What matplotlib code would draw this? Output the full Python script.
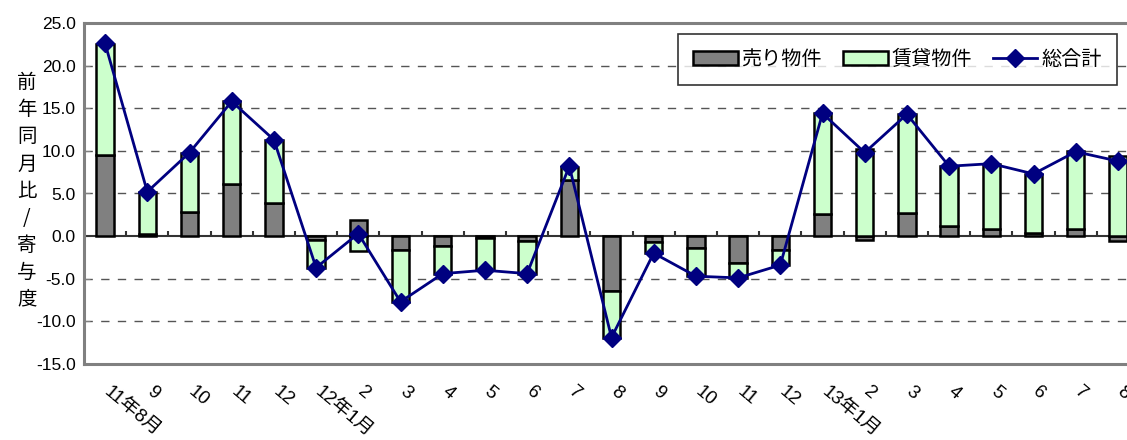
import numpy as np
import matplotlib
matplotlib.use("Agg")
import matplotlib.pyplot as plt

categories = ["11年8月", "9", "10", "11", "12", "12年1月", "2", "3", "4", "5", "6", "7",
              "8", "9", "10", "11", "12", "13年1月", "2", "3", "4", "5", "6", "7", "8"]
sale = [9.5, 0.2, 2.8, 6.1, 3.9, -0.5, 1.9, -1.6, -1.2, -0.2, -0.6, 6.6,
        -6.4, -0.7, -1.4, -3.2, -1.6, 2.6, -0.4, 2.7, 1.2, 0.8, 0.4, 0.8, -0.6]
rent = [13.0, 5.0, 7.0, 9.7, 7.4, -3.2, -1.7, -6.1, -3.3, -3.8, -3.8, 1.5,
        -5.5, -1.3, -3.3, -1.7, -1.8, 11.8, 10.2, 11.6, 7.0, 7.7, 6.9, 9.2, 9.4]
total = [22.6, 5.2, 9.8, 15.8, 11.3, -3.7, 0.3, -7.7, -4.4, -4.0, -4.4, 8.2,
         -11.9, -2.0, -4.7, -4.9, -3.4, 14.4, 9.8, 14.3, 8.2, 8.5, 7.3, 9.9, 8.8]
yticks = [-15, -10, -5, 0, 5, 10, 15, 20, 25]
labels = ["売り物件", "賃貸物件", "総合計"]
ylabel = "前年同月比/寄与度"

num_font = ["Liberation Sans", "Noto Sans CJK JP"]
cjk_font = ["Noto Sans CJK JP", "DejaVu Sans"]

fig = plt.figure(figsize=(11.27, 4.4), dpi=100)
ax = fig.add_axes([84 / 1127, 1 - 364 / 440, 1055 / 1127, 341 / 440])

x = np.arange(len(categories))
sale_a = np.array(sale)
rent_a = np.array(rent)
rent_bottom = np.where(np.sign(rent_a) == np.sign(sale_a), sale_a, 0.0)

w = 0.41
b1 = ax.bar(x, sale_a, w, color="#808080", edgecolor="black", linewidth=1.8, label=labels[0], zorder=3)
b2 = ax.bar(x, rent_a, w, bottom=rent_bottom, color="#CCFFCC", edgecolor="black", linewidth=1.8,
            label=labels[1], zorder=3)
ln, = ax.plot(x, total, color="#000080", linewidth=2, marker="D", markersize=9.5,
              markerfacecolor="#000080", markeredgecolor="#000080", label=labels[2], zorder=4)

ax.set_xlim(-0.5, len(categories) - 0.5)
ax.set_ylim(-15, 25)
ax.set_yticks(yticks)
ax.set_yticklabels([f"{v:.1f}" for v in yticks], fontsize=12.5, family=num_font)
for v in yticks:
    if v == 0:
        ax.axhline(0, color="#333333", linewidth=1.5, zorder=2)
    elif v != 25 and v != -15:
        ax.axhline(v, color="#555555", linewidth=1, linestyle=(0, (6, 6)), zorder=1)

# category boundary ticks on zero line
ax.vlines(x[:-1] + 0.5, 0, 0.65, color="#333333", linewidth=1.5, zorder=2)

ax.set_xticks(x)
ax.set_xticklabels([])
ax.tick_params(axis="x", length=0)
ax.tick_params(axis="y", direction="in", length=4, color="#808080", pad=6)

for xi, lab in zip(x, categories):
    ax.annotate(lab, xy=(xi, 0), xycoords=("data", "axes fraction"),
                xytext=(1, -18.5), textcoords="offset points",
                rotation=-40, rotation_mode="anchor", ha="left", va="center",
                fontsize=13.5, family=num_font)

for s in ["left", "bottom", "top", "right"]:
    ax.spines[s].set_color("#808080")
    ax.spines[s].set_linewidth(2.2)

fig.text(27 / 1127, 1 - 191 / 440, "\n".join(ylabel), ha="center", va="center",
         fontsize=14, family=cjk_font, linespacing=1.38)

leg = ax.legend([b1, b2, ln], labels, loc="upper right", bbox_to_anchor=(1117 / 1127, 1 - 34 / 440),
                bbox_transform=fig.transFigure, ncol=3, frameon=True, fancybox=False,
                prop={"family": cjk_font, "size": 14.5}, handlelength=2.2, handleheight=0.7,
                columnspacing=1.05, handletextpad=0.2, borderpad=0.75, borderaxespad=0)
leg.get_frame().set_edgecolor("black")
leg.get_frame().set_linewidth(1.2)

fig.savefig("out.png", dpi=100)
